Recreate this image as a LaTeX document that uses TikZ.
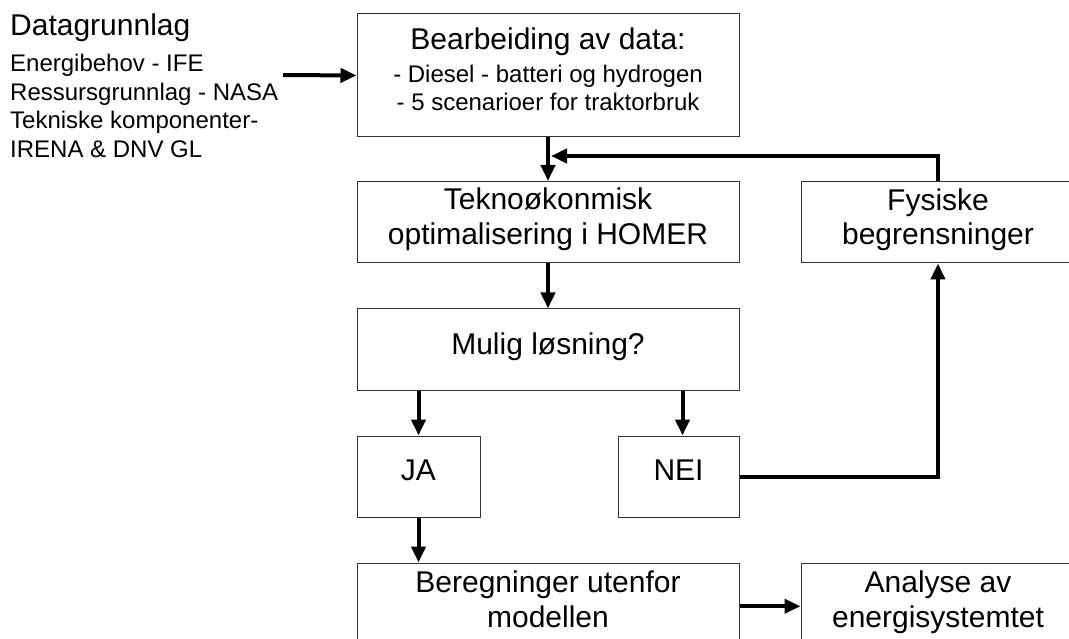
\documentclass[tikz,border=0pt]{standalone}
\usepackage{fontspec}
\setmainfont{Liberation Sans}
\usetikzlibrary{arrows.meta}

\tikzset{
  box/.style={draw=black!80, line width=1pt, minimum width=#1, minimum height=81pt,
    align=center, inner sep=0pt, text depth=12pt, font=\fontsize{30}{34.5}\selectfont},
  box/.default=382pt,
  flow/.style={line width=4pt, -{Triangle[length=16pt,width=14pt]}},
}

\begin{document}
\begin{tikzpicture}[x=1pt,y=1pt]
\clip (0,0) rectangle (1069,-639);
% input data
\node[anchor=base west, inner sep=0pt, font=\fontsize{30}{34}\selectfont] (datatitle) at (10,-36) {Datagrunnlag};
\node[anchor=north west, align=left, inner sep=0pt, font=\fontsize{24}{28.5}\selectfont] (datalist) at (10,-54) {Energibehov - IFE\\Ressursgrunnlag - NASA\\Tekniske komponenter-\\IRENA \& DNV GL};
\coordinate (src) at (283,-75);

% main column
\node[box, minimum height=123pt] (bearb) at (548,-75.5) {Bearbeiding av data:\\[-1.5pt]{\fontsize{24}{27}\selectfont - Diesel - batteri og hydrogen}\\[-6.5pt]{\fontsize{24}{27}\selectfont - 5 scenarioer for traktorbruk}};
\node[box] (tekno) at (548,-222) {Teknoøkonmisk\\optimalisering i HOMER};
\node[box] (mulig) at (548,-349.5) {Mulig løsning?};
\node[box=123pt] (ja) at (418.5,-476.5) {JA};
\node[box=121pt] (nei) at (678.5,-476.5) {NEI};
\node[box, minimum height=84.5pt] (bereg) at (548,-605.25) {Beregninger utenfor\\modellen};

% right column
\node[box=274pt] (fys) at (938,-222.5) {Fysiske\\begrensninger};
\node[box=274pt, minimum height=84.5pt] (analyse) at (938,-605.25) {Analyse av\\energisystemtet};
\coordinate (join) at (551,-156);

% connectors
\draw[flow] (src) -- (bearb.west);
\draw[flow] (bearb.south) -- (tekno.north);
\draw[flow] (tekno.south) -- (mulig.north);
\draw[flow] (mulig.south -| ja) -- (ja.north);
\draw[flow] ([xshift=4pt]nei.north |- mulig.south) -- ([xshift=4pt]nei.north);
\draw[flow] (ja.south) -- (ja.south |- bereg.north);
\draw[flow] (nei.east) -| (fys.south);
\draw[flow] (fys.north) |- (join);
\draw[flow] ([yshift=-1pt]bereg.east) -- ([yshift=-1pt]analyse.west);
\end{tikzpicture}
\end{document}
